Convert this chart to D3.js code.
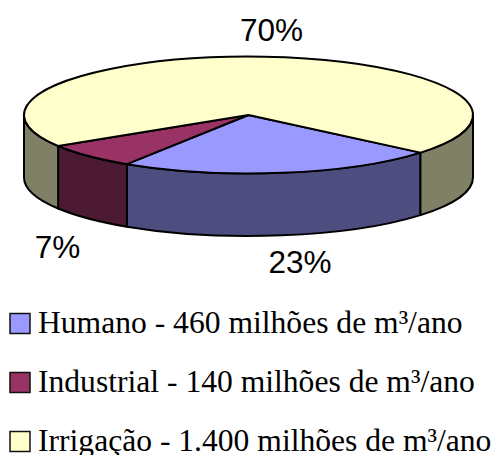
<!DOCTYPE html>
<html>
<head>
<meta charset="utf-8">
<script src="https://cdn.jsdelivr.net/npm/d3@7"></script>
<style>
  html, body { margin: 0; padding: 0; background: #fff; overflow: hidden; }
</style>
</head>
<body>
<div id="wrapper"></div>
<script>
const categories = ["Humano", "Industrial", "Irrigação"];
const values = [460, 140, 1400];
const percentLabels = ["23%", "7%", "70%"];
const legendLabels = [
  "Humano - 460 milhões de m³/ano",
  "Industrial - 140 milhões de m³/ano",
  "Irrigação - 1.400 milhões de m³/ano"
];
const topColors = ["#9999ff", "#993366", "#ffffcc"];
const wallColors = ["#4d4d80", "#4d1a33", "#808066"];

const dimensions = { width: 493, height: 455 };
const pieCenter = { x: 248.5, y: 115 };
const rx = 224.5, ry = 58.5, depth = 62.5;
const startAngle = 130 * Math.PI / 180;

const svg = d3.select("#wrapper").append("svg")
  .attr("width", dimensions.width)
  .attr("height", dimensions.height)
  .style("display", "block");

// slices keep their order, clockwise from the right side of the ellipse
const slices = d3.pie().sort(null)
  .startAngle(startAngle)
  .endAngle(startAngle + 2 * Math.PI)(values);

// pie angle (0 = up, clockwise) to a point on the tilted rim
const rim = a => [
  pieCenter.x + rx * Math.sin(a),
  pieCenter.y - ry * Math.cos(a)
];

// outer wall between two angles, only the part facing the viewer
function wallPath(a0, a1) {
  const [x0, y0] = rim(a0), [x1, y1] = rim(a1);
  return `M${x0},${y0}A${rx},${ry} 0 0 1 ${x1},${y1}` +
    `L${x1},${y1 + depth}A${rx},${ry} 0 0 0 ${x0},${y0 + depth}Z`;
}

const walls = svg.append("g").attr("stroke", "#000").attr("stroke-width", 2).attr("stroke-linejoin", "round");
const PI = Math.PI;
slices.forEach((s, i) => {
  // the visible wall is pie angle 90deg..270deg, also checked one turn on
  [0, 2 * PI].forEach(turn => {
    const a0 = Math.max(s.startAngle, PI / 2 + turn);
    const a1 = Math.min(s.endAngle, 3 * PI / 2 + turn);
    if (a1 > a0) {
      walls.append("path").attr("d", wallPath(a0, a1)).attr("fill", wallColors[i]);
    }
  });
});

// top of the pie, flat arcs squashed into an ellipse
const arc = d3.arc().innerRadius(0).outerRadius(rx);
svg.append("g")
  .attr("transform", `translate(${pieCenter.x},${pieCenter.y}) scale(1,${ry / rx})`)
  .selectAll("path")
  .data(slices)
  .join("path")
  .attr("d", arc)
  .attr("fill", (d, i) => topColors[i])
  .attr("stroke", "#000")
  .attr("stroke-width", 2)
  .attr("stroke-linejoin", "round")
  .attr("vector-effect", "non-scaling-stroke");

// percent labels
const labelPos = [[300, 273], [57.5, 258], [271.5, 41]];
svg.append("g")
  .selectAll("text")
  .data(percentLabels)
  .join("text")
  .attr("x", (d, i) => labelPos[i][0])
  .attr("y", (d, i) => labelPos[i][1])
  .attr("text-anchor", "middle")
  .attr("font-family", "'Liberation Sans', Arial, sans-serif")
  .attr("font-size", 31.5)
  .attr("fill", "#000")
  .text(d => d);

// legend, the last row runs to the window edge like the reference
const legendY = d3.scalePoint().domain(categories).range([333, 451]);
const legend = svg.append("g")
  .selectAll("g")
  .data(categories)
  .join("g")
  .attr("transform", d => `translate(0,${legendY(d)})`);

legend.append("rect")
  .attr("x", 10)
  .attr("y", -19.5)
  .attr("width", 20)
  .attr("height", 20)
  .attr("fill", (d, i) => topColors[i])
  .attr("stroke", "#111")
  .attr("stroke-width", 1.5);

legend.append("text")
  .attr("x", 38)
  .attr("y", 0)
  .attr("font-family", "'Liberation Serif', 'Times New Roman', serif")
  .attr("font-size", 31.6)
  .attr("fill", "#000")
  .text((d, i) => legendLabels[i]);
</script>
</body>
</html>
